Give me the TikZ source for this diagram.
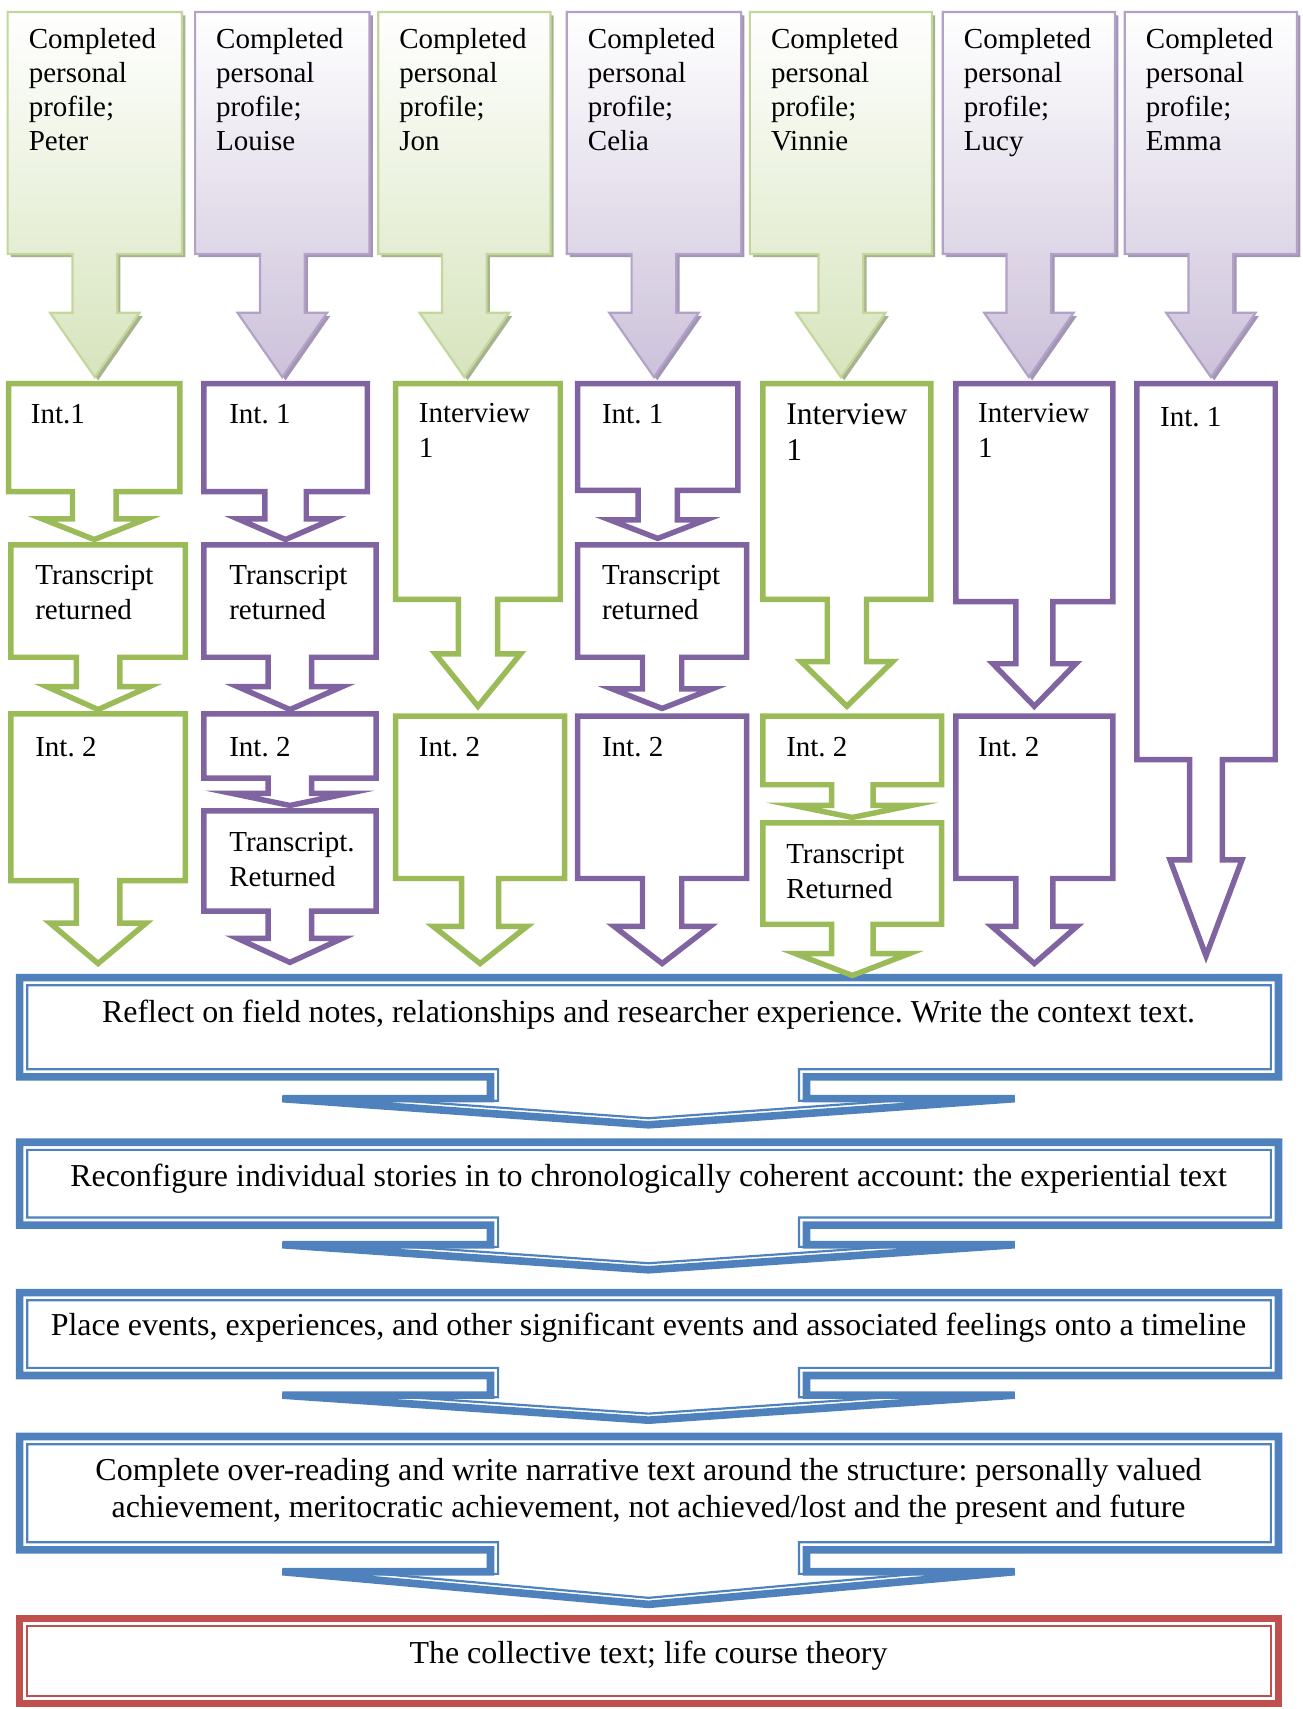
\documentclass[tikz,border=0pt]{standalone}
\usepackage{fontspec}
\setmainfont{Liberation Serif}
\frenchspacing
\definecolor{PRgreen}{HTML}{9BBB59}
\definecolor{PRpurple}{HTML}{8064A2}
\definecolor{PRblue}{HTML}{4F81BD}
\definecolor{PRred}{HTML}{C0504D}
\definecolor{PRgreenLine}{HTML}{C3D69B}
\definecolor{PRgreenFill}{HTML}{D7E4BD}
\definecolor{PRgreenShade}{HTML}{A7B38F}
\definecolor{PRpurpleLine}{HTML}{B3A2C7}
\definecolor{PRpurpleFill}{HTML}{CCC1DA}
\definecolor{PRpurpleShade}{HTML}{A396B4}

% down arrow callout: [style]{left}{right}{top}{bottom}{shaft half}{head half}{head y}{tip y}
\newcommand{\downcallout}[9][]{%
  \path[#1] (#2,#4) -- (#3,#4) -- (#3,#5)
    -- ({(#2+#3)/2+#6},#5) -- ({(#2+#3)/2+#6},#8) -- ({(#2+#3)/2+#7},#8)
    -- ({(#2+#3)/2},#9)
    -- ({(#2+#3)/2-#7},#8) -- ({(#2+#3)/2-#6},#8) -- ({(#2+#3)/2-#6},#5)
    -- (#2,#5) -- cycle;}

% wide step callout, thick-thin line: [colour]{top}{bottom}{shoulder y}{tip y}
\newcommand{\stepcallout}[5][PRblue]{%
  \draw[#1, line width=1pt] (25,#2+7) -- (1166,#2+7) -- (1166,#3-7) -- (733,#3-7) -- (733,#4+2)
    -- ({595+336*(#5-#4-8)/(#5-#4)},#4+2) -- (595,#5-6) -- ({595-336*(#5-#4-8)/(#5-#4)},#4+2)
    -- (457,#4+2) -- (457,#3-7) -- (25,#3-7) -- cycle;
  \draw[#1, line width=3.5pt] (18,#2) -- (1173,#2) -- (1173,#3) -- (740,#3) -- (740,#4)
    -- (931,#4) -- (595,#5) -- (259,#4) -- (450,#4) -- (450,#3) -- (18,#3) -- cycle;}

\begin{document}
\begin{tikzpicture}[x=0.5pt, y=-0.5pt,
    stage/.style={line width=2.5pt},
    txt/.style={inner sep=0pt, font=\fontsize{13.3}{16}\selectfont},
    lbl/.style={txt, anchor=north west, align=left},
    steptxt/.style={inner sep=0pt, align=center, font=\fontsize{14.65}{17}\selectfont}]
  \useasboundingbox (0,0) rectangle (1195,1568);

  % Profiles
  \foreach \xl/\xr/\who/\tone in {7/167/Peter/PRgreen, 179/339/Louise/PRpurple,
      347/505/Jon/PRgreen, 520/680/Celia/PRpurple, 688/855/Vinnie/PRgreen,
      865/1023/Lucy/PRpurple, 1032/1190/Emma/PRpurple} {
    \downcallout[fill=\tone Shade, shift={(3,3)}]{\xl}{\xr}{11}{233}{20.5}{41}{287}{346}
    \downcallout[draw=\tone Line, line width=1pt, top color=white, bottom color=\tone Fill]{\xl}{\xr}{11}{233}{20.5}{41}{287}{346}
    \node[lbl, font=\fontsize{13.3}{15.5}\selectfont] (prof\who) at (\xl+19,26) {Completed\\personal\\profile;\\\who};
  }

  % Analysis steps
  \stepcallout{897}{988}{1008}{1032}
  \node[steptxt] (reflect) at (595,931) {Reflect on field notes, relationships and researcher experience. Write the context text.};
  \stepcallout{1048}{1124}{1142}{1165}
  \node[steptxt] (reconfigure) at (595,1081) {Reconfigure individual stories in to chronologically coherent account: the experiential text};
  \stepcallout{1186}{1262}{1280}{1303}
  \node[steptxt] (timeline) at (595,1218) {Place events, experiences, and other significant events and associated feelings onto a timeline};
  \stepcallout{1318}{1422}{1442}{1472}
  \node[steptxt] (overreading) at (595,1368) {Complete over-reading and write narrative text around the structure: personally valued\\achievement, meritocratic achievement, not achieved/lost and the present and future};
  % Collective text
  \draw[PRred, line width=3.5pt] (18,1485) rectangle (1173,1563);
  \draw[PRred, line width=1pt] (25,1492) rectangle (1166,1556);
  \node[steptxt] (collective) at (595,1519) {The collective text; life course theory};

  % Peter
  \downcallout[stage, draw=PRgreen]{8}{165}{352}{451}{20}{48}{476}{495}
  \downcallout[stage, draw=PRgreen]{10}{170}{500}{603}{20}{47}{630}{651}
  \downcallout[stage, draw=PRgreen]{10}{170}{655}{808}{20}{44}{847}{884}
  \node[lbl] (intPeterA) at (28,371) {Int.1};
  \node[lbl] (transPeter) at (32,518) {Transcript\\returned};
  \node[lbl] (intPeterB) at (32,676) {Int. 2};
  % Louise
  \downcallout[stage, draw=PRpurple]{187}{337}{352}{451}{19}{44}{476}{495}
  \downcallout[stage, draw=PRpurple]{187}{345}{500}{603}{20}{48}{630}{651}
  \downcallout[stage, draw=PRpurple]{187}{345}{655}{714}{20}{53}{728}{739}
  \downcallout[stage, draw=PRpurple]{187}{345}{744}{836}{20}{48}{861}{883}
  \node[lbl] (intLouiseA) at (210,371) {Int. 1};
  \node[lbl] (transLouiseA) at (210,518) {Transcript\\returned};
  \node[lbl] (intLouiseB) at (210,676) {Int. 2};
  \node[lbl] (transLouiseB) at (210,763) {Transcript.\\Returned};
  % Jon
  \downcallout[stage, draw=PRgreen]{363}{514}{352}{550}{18}{39}{600}{648}
  \downcallout[stage, draw=PRgreen]{363}{518}{657}{806}{17}{43}{850}{884}
  \node[lbl] (intJonA) at (384,370) {Interview\\1};
  \node[lbl] (intJonB) at (384,676) {Int. 2};
  % Celia
  \downcallout[stage, draw=PRpurple]{530}{677}{352}{450}{18}{44}{477}{494}
  \downcallout[stage, draw=PRpurple]{530}{685}{500}{603}{18}{46}{632}{650}
  \downcallout[stage, draw=PRpurple]{530}{685}{657}{806}{18}{44}{850}{884}
  \node[lbl] (intCeliaA) at (552,371) {Int. 1};
  \node[lbl] (transCelia) at (552,518) {Transcript\\returned};
  \node[lbl] (intCeliaB) at (552,676) {Int. 2};
  % Vinnie
  \downcallout[stage, draw=PRgreen]{700}{854}{352}{550}{18}{42}{607}{648}
  \downcallout[stage, draw=PRgreen]{700}{864}{657}{720}{19}{54}{739}{750}
  \downcallout[stage, draw=PRgreen]{700}{864}{755}{848}{19}{52}{875}{895}
  \node[lbl, font=\fontsize{14.5}{16.5}\selectfont] (intVinnieA) at (721,370) {Interview\\1};
  \node[lbl] (intVinnieB) at (721,676) {Int. 2};
  \node[lbl] (transVinnie) at (721,774) {Transcript\\Returned};
  % Lucy
  \downcallout[stage, draw=PRpurple]{877}{1021}{352}{552}{17}{38}{609}{648}
  \downcallout[stage, draw=PRpurple]{877}{1021}{657}{806}{17}{39}{850}{884}
  \node[lbl] (intLucyA) at (897,370) {Interview\\1};
  \node[lbl] (intLucyB) at (897,676) {Int. 2};
  % Emma
  \downcallout[stage, draw=PRpurple]{1043}{1170}{352}{697}{15}{33}{789}{877}
  \node[lbl] (intEmma) at (1064,373) {Int. 1};
\end{tikzpicture}
\end{document}
